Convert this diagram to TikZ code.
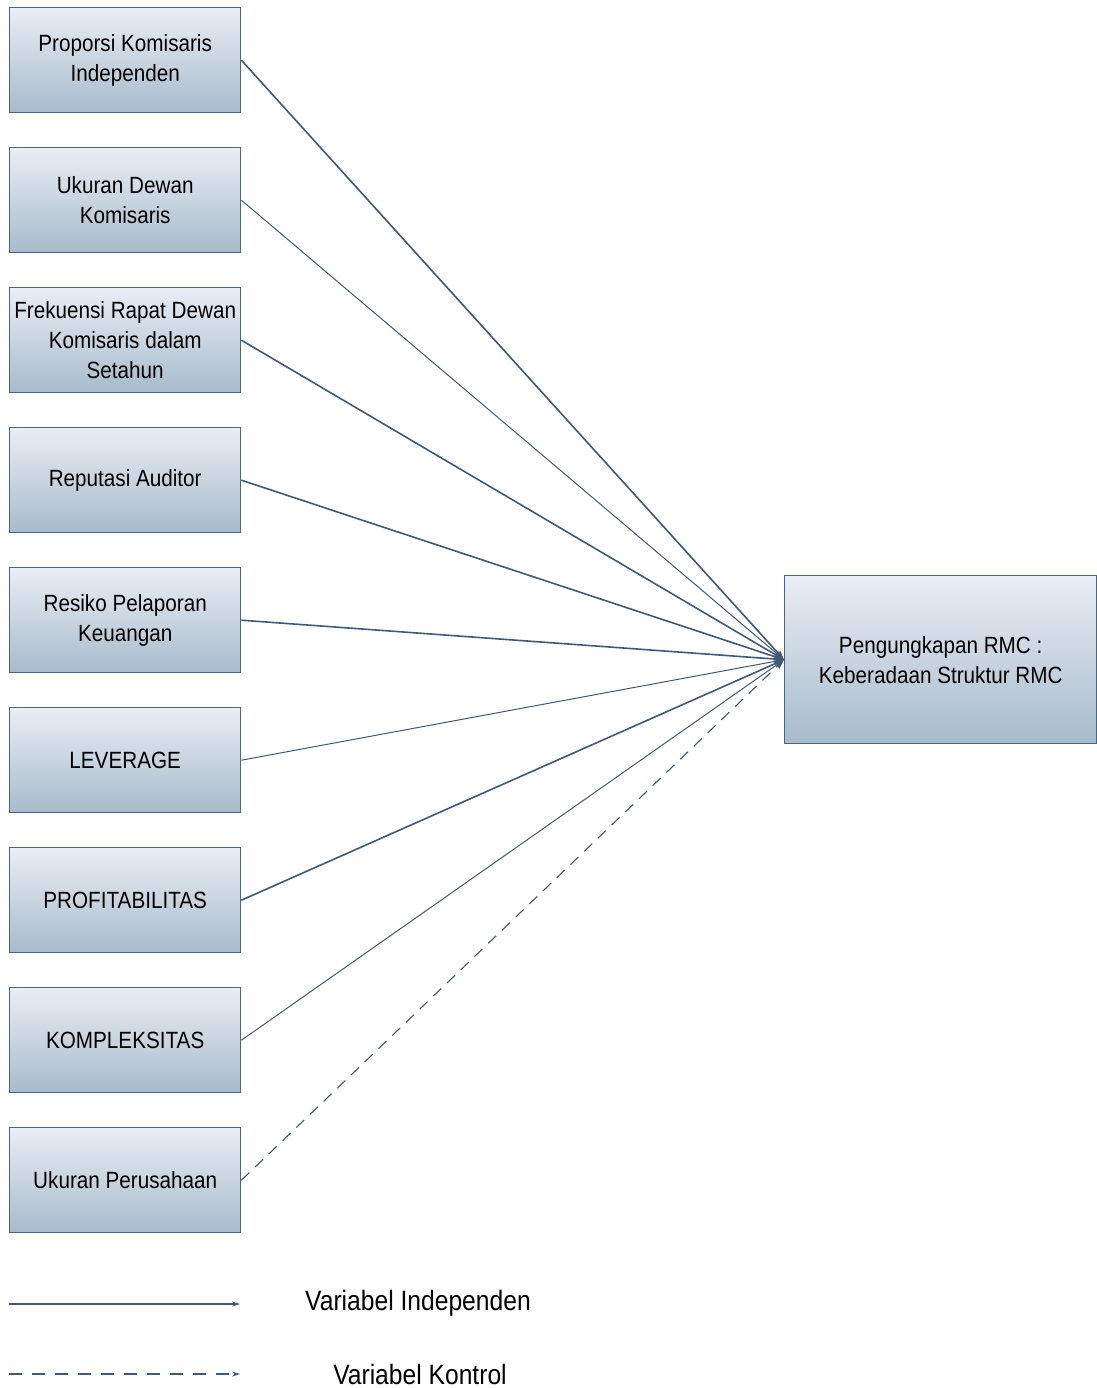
\documentclass[tikz,border=0pt]{standalone}
\usepackage{fontspec}
\setmainfont[FakeStretch=0.88]{Liberation Sans}
\usetikzlibrary{arrows.meta}
\definecolor{linec}{HTML}{3F5A74}
\definecolor{boxtop}{HTML}{EAEEF5}
\definecolor{boxbot}{HTML}{A6BBCC}
\definecolor{boxline}{HTML}{4A6580}
\tikzset{
  box/.style={rectangle, draw=boxline, line width=1.4pt, top color=boxtop, bottom color=boxbot,
    minimum width=231pt, minimum height=105pt, inner sep=0pt, align=center, anchor=north west,
    font=\fontsize{23.5}{30}\selectfont},
  rmcbox/.style={box, minimum width=312pt, minimum height=168pt},
  conn/.style={draw=linec, line width=1.6pt, -{Stealth[length=10pt,width=7pt]}},
  thin conn/.style={conn, line width=1.0pt},
  ctrl/.style={conn, line width=1.1pt, dash pattern=on 11pt off 8pt},
  legtext/.style={font=\fontsize{28}{32}\selectfont, anchor=center}
}
\begin{document}
\begin{tikzpicture}[x=1pt,y=-1pt]
\useasboundingbox (0,0) rectangle (1096,1388);
\node[box] (b1) at (9,7) {Proporsi Komisaris\\Independen};
\node[box] (b2) at (9,147) {Ukuran Dewan\\Komisaris};
\node[box] (b3) at (9,287) {Frekuensi Rapat Dewan\\Komisaris dalam\\Setahun};
\node[box] (b4) at (9,427) {Reputasi Auditor};
\node[box] (b5) at (9,567) {Resiko Pelaporan\\Keuangan};
\node[box] (b6) at (9,707) {LEVERAGE};
\node[box] (b7) at (9,847) {PROFITABILITAS};
\node[box] (b8) at (9,987) {KOMPLEKSITAS};
\node[box] (b9) at (9,1127) {Ukuran Perusahaan};
\node[rmcbox] (rmc) at (784,575) {Pengungkapan RMC :\\Keberadaan Struktur RMC};

\draw[conn] (b1.east) -- (rmc.west);
\draw[thin conn] (b2.east) -- (rmc.west);
\draw[conn] (b3.east) -- (rmc.west);
\draw[conn] (b4.east) -- (rmc.west);
\draw[conn] (b5.east) -- (rmc.west);
\draw[thin conn] (b6.east) -- (rmc.west);
\draw[conn] (b7.east) -- (rmc.west);
\draw[thin conn] (b8.east) -- (rmc.west);
\draw[ctrl] (b9.east) -- (rmc.west);

\coordinate (l1a) at (9,1304);
\coordinate (l1b) at (240,1304);
\coordinate (l2a) at (9,1374);
\coordinate (l2b) at (240,1374);
\draw[conn, line width=1.5pt, -{Stealth[length=8pt,width=5pt]}] (l1a) -- (l1b);
\draw[ctrl, dash pattern=on 13pt off 10pt, -{Stealth[length=8pt,width=5pt]}] (l2a) -- (l2b);
\node[legtext] (t1) at (418,1303) {Variabel Independen};
\node[legtext] (t2) at (420,1374) {Variabel Kontrol};
\end{tikzpicture}
\end{document}
